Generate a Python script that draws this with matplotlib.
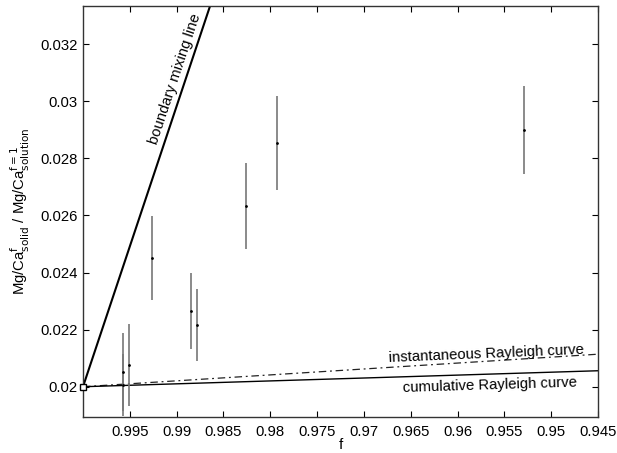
import matplotlib.pyplot as plt

plt.rcParams['font.family'] = ['Liberation Sans', 'DejaVu Sans']

# measured points (f, Mg/Ca ratio, error half-width)
f_obs = [0.99569, 0.99569, 0.99505, 0.99263, 0.98846, 0.98785, 0.98262, 0.97931, 0.95288]
ratio_obs = [0.02052, 0.02006, 0.02076, 0.02451, 0.02265, 0.02217, 0.02634, 0.02853, 0.02899]
err_obs = [0.00136, 0.00110, 0.00145, 0.00147, 0.00134, 0.00126, 0.00151, 0.00165, 0.00155]

# model lines
boundary_f = [1.0, 0.98]
boundary_y = [0.02, 0.03966]
inst_f = [1.0, 0.945]
inst_y = [0.02, 0.02114]
cum_f = [1.0, 0.945]
cum_y = [0.02, 0.02056]

xticks = [0.995, 0.99, 0.985, 0.98, 0.975, 0.97, 0.965, 0.96, 0.955, 0.95, 0.945]
xtick_labels = ['0.995', '0.99', '0.985', '0.98', '0.975', '0.97', '0.965', '0.96', '0.955', '0.95', '0.945']
yticks = [0.02, 0.022, 0.024, 0.026, 0.028, 0.03, 0.032]
ytick_labels = ['0.02', '0.022', '0.024', '0.026', '0.028', '0.03', '0.032']

fs = 10.7

fig = plt.figure(figsize=(6.17, 4.53), dpi=100)
ax = fig.add_axes([0.1345, 0.0795, 0.8347, 0.9073])

ax.plot(boundary_f, boundary_y, color='black', linewidth=1.5)
ax.plot(inst_f, inst_y, color='#222222', linewidth=0.9, linestyle='-.', dashes=(6, 3, 1.5, 3))
ax.plot(cum_f, cum_y, color='black', linewidth=1.0)
ax.plot([1.0], [0.02], marker='s', markersize=5, markerfacecolor='white',
        markeredgecolor='black', markeredgewidth=1.0, clip_on=False, zorder=5)

ax.errorbar(f_obs, ratio_obs, yerr=err_obs, fmt='.', color='black', markersize=2,
            ecolor='#777777', elinewidth=1.2, capsize=0)

ax.text(0.9902, 0.0308, 'boundary mixing line', rotation=71.5, fontsize=fs,
        ha='center', va='center', rotation_mode='anchor')
ax.text(0.9569, 0.02115, 'instantaneous Rayleigh curve', rotation=2.4, fontsize=fs,
        ha='center', va='center', rotation_mode='anchor')
ax.text(0.9566, 0.02006, 'cumulative Rayleigh curve', rotation=1.8, fontsize=fs,
        ha='center', va='center', rotation_mode='anchor')

ax.set_xlim(1.0, 0.945)
ax.set_ylim(0.01894, 0.03334)
ax.set_xticks(xticks)
ax.set_xticklabels(xtick_labels)
ax.set_yticks(yticks)
ax.set_yticklabels(ytick_labels)
ax.tick_params(direction='in', top=True, right=True, length=4, labelsize=fs)
ax.tick_params(axis='y', pad=4)
ax.tick_params(axis='x', pad=6)
for s in ax.spines.values():
    s.set_linewidth(1.0)
    s.set_color('#333333')

ax.set_xlabel('f', fontsize=fs, labelpad=-1)
ax.set_ylabel(r'Mg/Ca$^{\mathrm{f}}_{\mathrm{solid}}$ / Mg/Ca$^{\mathrm{f=1}}_{\mathrm{solution}}$',
              fontsize=fs, labelpad=6)

plt.savefig('out.png', dpi=100)
plt.close()
